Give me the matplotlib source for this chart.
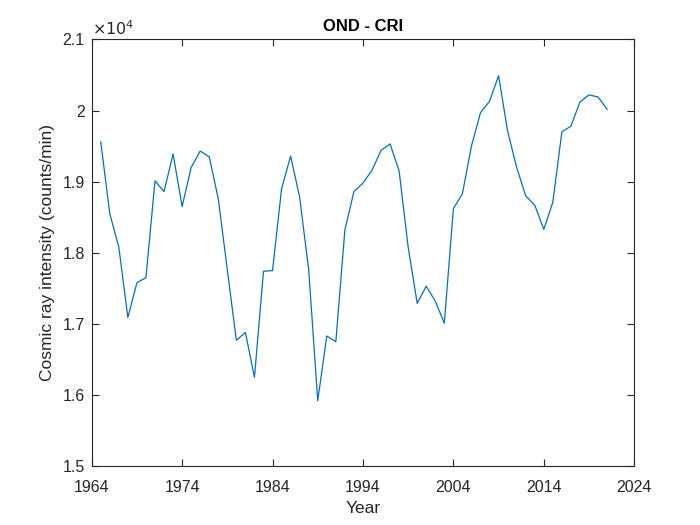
import matplotlib
matplotlib.use("Agg")
import matplotlib.pyplot as plt
from matplotlib.ticker import FuncFormatter

years = list(range(1965, 2022))
cri = [19560, 18550, 18080, 17090, 17580, 17650, 19010, 18860, 19390, 18650,
       19200, 19430, 19350, 18760, 17760, 16770, 16880, 16250, 17740, 17750,
       18900, 19360, 18780, 17760, 15920, 16830, 16750, 18320, 18860, 18980,
       19160, 19440, 19530, 19150, 18080, 17290, 17530, 17320, 17010, 18620,
       18830, 19500, 19970, 20130, 20490, 19710, 19200, 18800, 18670, 18330,
       18710, 19700, 19780, 20120, 20220, 20190, 20020]
xticks = [1964, 1974, 1984, 1994, 2004, 2014, 2024]
yticks = [15000, 16000, 17000, 18000, 19000, 20000, 21000]

txt = (0.15, 0.15, 0.15)
plt.rcParams['font.family'] = ['Liberation Sans', 'DejaVu Sans']
fig = plt.figure(figsize=(7, 5.25), dpi=100)
ax = fig.add_axes([0.131, 0.112, 0.775, 0.813])
ax.plot(years, cri, color='#0072BD', lw=0.9)
ax.set_xlim(1964, 2024)
ax.set_ylim(15000, 21000)
ax.set_xticks(xticks)
ax.set_yticks(yticks)
ax.yaxis.set_major_formatter(FuncFormatter(lambda v, p: '%g' % (v / 1e4)))
ax.tick_params(direction='in', top=True, right=True, length=5, width=0.8,
               labelsize=11.5, colors=txt)
ax.tick_params(axis='x', pad=10)
ax.tick_params(axis='y', pad=5)
for s in ax.spines.values():
    s.set_color(txt)
    s.set_linewidth(0.8)
ax.set_xlabel('Year', fontsize=12.5, color=txt, labelpad=4)
ax.set_ylabel('Cosmic ray intensity (counts/min)', fontsize=12.5, color=txt, labelpad=5)
ax.set_title('OND - CRI', fontsize=12, fontweight='bold', color='black', pad=6)
ax.text(0.0, 1.004, r'$\times10^{4}$', transform=ax.transAxes, fontsize=11.5,
        color=txt, ha='left', va='bottom')
fig.savefig('out.png', dpi=100)
